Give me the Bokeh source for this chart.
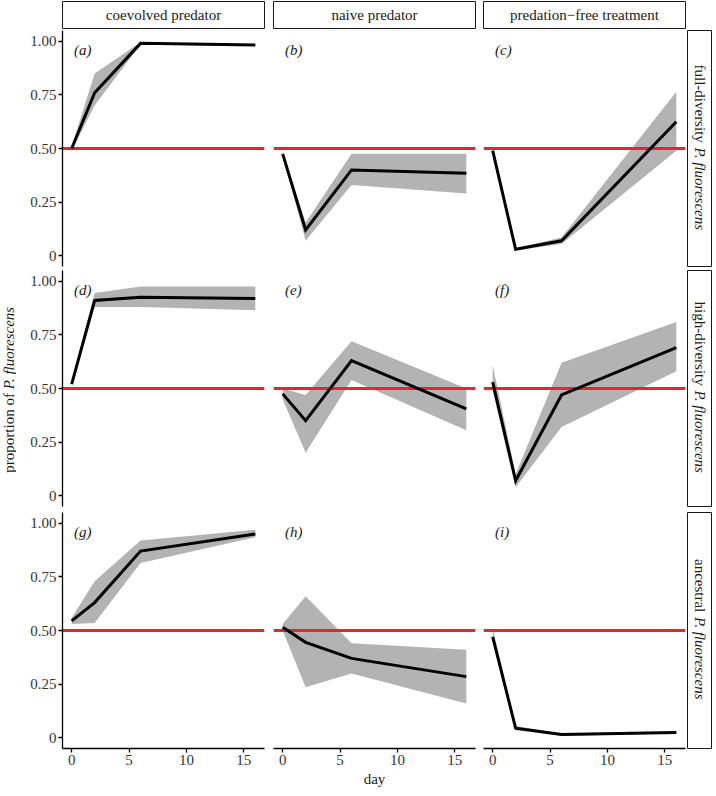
import math
from bokeh.plotting import figure
from bokeh.layouts import row, column
from bokeh.models import Range1d, FixedTicker, Spacer
from bokeh.core.properties import value
from bokeh.embed import file_html
from bokeh.resources import INLINE

# ---------------- data ----------------
days = [0, 2, 6, 16]
predators = ["coevolved predator", "naive predator", "predation\u2212free treatment"]
prey_plain = ["full-diversity ", "high-diversity ", "ancestral "]
prey_italic = "P. fluorescens"
ylabel_plain = "proportion of "
ylabel_italic = "P. fluorescens"
xlabel = "day"
panel_tags = ["(a)", "(b)", "(c)", "(d)", "(e)", "(f)", "(g)", "(h)", "(i)"]
x_ticks = [0, 5, 10, 15]
y_ticks = [0, 0.25, 0.5, 0.75, 1]
y_tick_labels = ["0", "0.25", "0.50", "0.75", "1.00"]
reference_level = 0.5

mean_a = [0.50, 0.76, 0.99, 0.982]
lo_a = [0.49, 0.70, 0.985, 0.978]
hi_a = [0.51, 0.85, 0.995, 0.986]

mean_b = [0.475, 0.12, 0.40, 0.385]
lo_b = [0.47, 0.07, 0.33, 0.29]
hi_b = [0.48, 0.155, 0.475, 0.475]

mean_c = [0.49, 0.03, 0.07, 0.625]
lo_c = [0.48, 0.025, 0.055, 0.49]
hi_c = [0.51, 0.035, 0.085, 0.765]

mean_d = [0.52, 0.91, 0.925, 0.92]
lo_d = [0.51, 0.88, 0.88, 0.865]
hi_d = [0.53, 0.945, 0.975, 0.975]

mean_e = [0.475, 0.35, 0.63, 0.405]
lo_e = [0.45, 0.20, 0.54, 0.305]
hi_e = [0.50, 0.47, 0.72, 0.50]

mean_f = [0.53, 0.07, 0.47, 0.69]
lo_f = [0.49, 0.04, 0.32, 0.58]
hi_f = [0.61, 0.10, 0.62, 0.81]

mean_g = [0.545, 0.63, 0.87, 0.95]
lo_g = [0.53, 0.535, 0.815, 0.935]
hi_g = [0.56, 0.73, 0.92, 0.97]

mean_h = [0.515, 0.445, 0.37, 0.285]
lo_h = [0.50, 0.235, 0.30, 0.16]
hi_h = [0.53, 0.66, 0.44, 0.41]

mean_i = [0.47, 0.045, 0.015, 0.025]
lo_i = [0.45, 0.035, 0.01, 0.02]
hi_i = [0.51, 0.055, 0.02, 0.03]

means = [mean_a, mean_b, mean_c, mean_d, mean_e, mean_f, mean_g, mean_h, mean_i]
lows = [lo_a, lo_b, lo_c, lo_d, lo_e, lo_f, lo_g, lo_h, lo_i]
highs = [hi_a, hi_b, hi_c, hi_d, hi_e, hi_f, hi_g, hi_h, hi_i]

# ---------------- styling / layout ----------------
FONT = "Liberation Serif"
FS = 15
TXT = "#1a1a1a"
FRAME_W = 202
FRAME_H = 236
LEFT_B = [46, 5, 4]
RIGHT_B = [4, 4, 1]
TOP_B = [1, 2, 2]
BOT_B = [2, 4, 23]
STRIP_H = 29
DAY_H = 17
RSTRIP_W = 26
YLAB_W = 16

ROMAN = {" ": 250, "a": 444, "c": 444, "d": 500, "e": 444, "f": 333, "g": 500,
         "h": 500, "i": 278, "l": 278, "n": 500, "o": 500, "p": 500, "r": 333,
         "s": 389, "t": 278, "u": 500, "v": 500, "y": 500, "-": 333, ".": 250}
ITALIC = {" ": 250, "P": 611, ".": 250, "f": 278, "l": 278, "u": 500, "o": 500,
          "r": 389, "e": 444, "s": 389, "c": 444, "n": 500}


def text_w(s, table):
    return sum(table.get(ch, 500) for ch in s) * FS / 1000.0


def base_fig(w, h, xr, yr, **kw):
    p = figure(width=w, height=h, x_range=xr, y_range=yr, output_backend="svg",
               toolbar_location=None, **kw)
    p.grid.visible = False
    p.background_fill_color = "white"
    p.border_fill_color = "white"
    return p


def style_axis(ax):
    ax.axis_line_color = "black"
    ax.axis_line_width = 1.3
    ax.major_tick_line_color = "black"
    ax.major_tick_line_width = 1.3
    ax.major_tick_in = 0
    ax.major_tick_out = 4
    ax.minor_tick_line_color = None
    ax.major_label_text_font = FONT
    ax.major_label_text_font_size = f"{FS}px"
    ax.major_label_text_color = "#333333"
    ax.major_label_standoff = 2


def panel(r, c):
    k = r * 3 + c
    w = LEFT_B[c] + FRAME_W + RIGHT_B[c]
    h = TOP_B[r] + FRAME_H + BOT_B[r]
    p = base_fig(w, h, Range1d(-0.8, 16.8), Range1d(-0.05, 1.05),
                 x_axis_location="below" if r == 2 else None,
                 y_axis_location="left" if c == 0 else None,
                 min_border_left=LEFT_B[c], min_border_right=RIGHT_B[c],
                 min_border_top=TOP_B[r], min_border_bottom=BOT_B[r])
    p.outline_line_color = None
    p.varea(x=days, y1=lows[k], y2=highs[k], fill_color="#b3b3b3")
    p.hspan(y=[reference_level], line_color="#dd2a2f", line_width=3)
    p.line(x=days, y=means[k], line_color="black", line_width=3, line_join="miter")
    p.text(x=[0.2], y=[0.96], text=[panel_tags[k]], text_align="left",
           text_baseline="middle", text_font=value(FONT), text_font_style="italic",
           text_font_size=f"{FS}px", text_color=TXT)
    if r == 2:
        style_axis(p.xaxis[0])
        p.xaxis[0].ticker = FixedTicker(ticks=x_ticks)
    if c == 0:
        style_axis(p.yaxis[0])
        p.yaxis[0].ticker = FixedTicker(ticks=y_ticks)
        p.yaxis[0].major_label_overrides = {t: l for t, l in zip(y_ticks, y_tick_labels)}
    return p


def top_strip(c):
    w = LEFT_B[c] + FRAME_W + RIGHT_B[c]
    s = base_fig(w, STRIP_H, Range1d(0, 1), Range1d(0, 1),
                 x_axis_location=None, y_axis_location=None,
                 min_border_left=LEFT_B[c], min_border_right=RIGHT_B[c],
                 min_border_top=1, min_border_bottom=1)
    s.outline_line_color = TXT
    s.outline_line_width = 1
    s.text(x=[0.5], y=[0.5], text=[predators[c]], text_align="center",
           text_baseline="middle", text_font=value(FONT), text_font_size=f"{FS}px",
           text_color=TXT)
    return s


def right_strip(r):
    h = TOP_B[r] + FRAME_H + BOT_B[r]
    s = base_fig(RSTRIP_W, h, Range1d(0, 1), Range1d(0, 1),
                 x_axis_location=None, y_axis_location=None,
                 min_border_left=1, min_border_right=1,
                 min_border_top=TOP_B[r], min_border_bottom=BOT_B[r])
    s.outline_line_color = TXT
    s.outline_line_width = 1
    w1 = text_w(prey_plain[r], ROMAN) + 1
    w2 = text_w(prey_italic, ITALIC)
    yj = 0.5 + ((w1 + w2) / 2 - w1) / FRAME_H
    s.text(x=[0.5], y=[yj + 1.0 / FRAME_H], text=[prey_plain[r]], angle=-math.pi / 2,
           text_align="right", text_baseline="middle", text_font=value(FONT),
           text_font_size=f"{FS}px", text_color=TXT)
    s.text(x=[0.5], y=[yj], text=[prey_italic], angle=-math.pi / 2,
           text_align="left", text_baseline="middle", text_font=value(FONT),
           text_font_style="italic", text_font_size=f"{FS}px", text_color=TXT)
    return s


rows = [row(*[top_strip(c) for c in range(3)])]
for r in range(3):
    rows.append(row(*[panel(r, c) for c in range(3)], right_strip(r)))

day_fig = base_fig(LEFT_B[1] + FRAME_W + RIGHT_B[1], DAY_H, Range1d(0, 1), Range1d(0, 1),
                   x_axis_location=None, y_axis_location=None,
                   min_border_left=LEFT_B[1], min_border_right=RIGHT_B[1],
                   min_border_top=0, min_border_bottom=0)
day_fig.outline_line_color = None
day_fig.text(x=[0.5], y=[0.55], text=[xlabel], text_align="center", text_baseline="middle",
             text_font=value(FONT), text_font_size=f"{FS}px", text_color=TXT)
rows.append(row(Spacer(width=LEFT_B[0] + FRAME_W + RIGHT_B[0], height=DAY_H), day_fig))

grid = column(*rows)

row_heights = [TOP_B[r] + FRAME_H + BOT_B[r] for r in range(3)]
total_h = STRIP_H + sum(row_heights) + DAY_H
ylab = base_fig(YLAB_W, total_h, Range1d(0, 1), Range1d(0, total_h),
                x_axis_location=None, y_axis_location=None,
                min_border_left=0, min_border_right=0, min_border_top=0, min_border_bottom=0)
ylab.outline_line_color = None
center_from_top = STRIP_H + row_heights[0] + TOP_B[1] + FRAME_H / 2
yc = total_h - center_from_top
w1 = text_w(ylabel_plain, ROMAN)
w2 = text_w(ylabel_italic, ITALIC)
yj = yc - (w1 + w2) / 2 + w1
ylab.text(x=[0.55], y=[yj], text=[ylabel_plain], angle=math.pi / 2, text_align="right",
          text_baseline="middle", text_font=value(FONT), text_font_size=f"{FS}px",
          text_color=TXT)
ylab.text(x=[0.55], y=[yj], text=[ylabel_italic], angle=math.pi / 2, text_align="left",
          text_baseline="middle", text_font=value(FONT), text_font_style="italic",
          text_font_size=f"{FS}px", text_color=TXT)

layout = row(ylab, grid)

with open("out.html", "w") as f:
    f.write(file_html(layout, INLINE, "proportion of P. fluorescens"))
